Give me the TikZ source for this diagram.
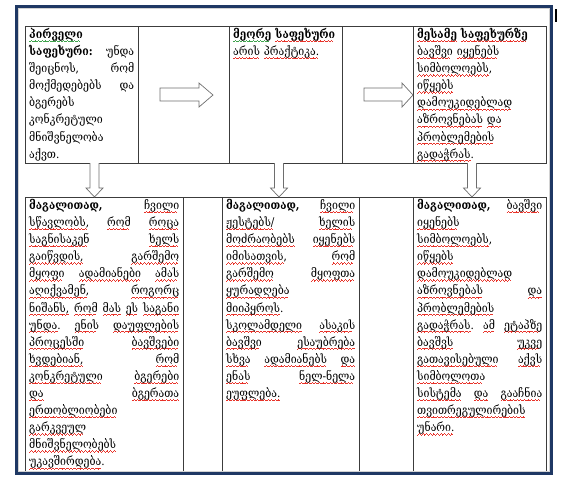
\documentclass[tikz,border=0pt]{standalone}
\usepackage{fontspec}
\setmainfont[WordSpace=0.75, FakeStretch=0.88]{DejaVu Serif}
\usepackage{tikz}
\usetikzlibrary{calc}
\definecolor{cFrame}{HTML}{1F3864}
\definecolor{cGrid}{HTML}{3C3C3C}
\definecolor{cArrow}{HTML}{6E6E6E}
\definecolor{cRed}{HTML}{E8332A}
\definecolor{cGreen}{HTML}{3FA34D}
% sublinhado ondulado (corretor)
\makeatletter
\newcommand{\sqwave}{\rule[-3.4pt]{0.9pt}{0.55pt}\rule[-2.8pt]{0.9pt}{0.55pt}%
  \rule[-2.2pt]{0.9pt}{0.55pt}\rule[-2.8pt]{0.9pt}{0.55pt}}
\newcommand{\sqword}[2]{\leavevmode\setbox0\hbox{#2}%
  \rlap{\color{#1}\hbox to\wd0{\leaders\hbox{\sqwave}\hfil}}\box0}
\def\sq@split#1#2 #3\@nil{\sqword{#1}{#2}\ifx\relax#3\relax\else\ \sq@split{#1}#3\@nil\fi}
\newcommand{\sq}[1]{\sq@split{cRed}#1 \@nil}
\newcommand{\sqg}[1]{\sq@split{cGreen}#1 \@nil}
\makeatother

\begin{document}
\begin{tikzpicture}[x=1pt, y=-1pt,
  stage/.style={anchor=north west, inner xsep=4pt, inner ysep=2pt, align=justify,
    font=\fontsize{12}{17.1}\selectfont},
  stageleft/.style={stage, align=left},
  block/.style={draw=cArrow, fill=white, line width=0.7pt, line join=miter}]
  \useasboundingbox (0,0) rectangle (568,480);
  % moldura
  \draw[cFrame, line width=3pt] (16.5,6) rectangle (551.5,473);
  \draw[gray!35, line width=0.6pt] (18.6,8.1) rectangle (549.4,470.9);
  \draw[black, line width=1.3pt] (556,9) -- (556,22);
  % grade
  \draw[cGrid, line width=0.8pt] (25,26) rectangle (546,163);
  \foreach \x in {138,229,342,413}
    \draw[cGrid, line width=0.8pt] (\x,26) -- (\x,163);
  \draw[cGrid, line width=0.8pt] (25,471) -- (25,197) -- (546,197) -- (546,471);
  \foreach \x in {183,222,359,413}
    \draw[cGrid, line width=0.8pt] (\x,197) -- (\x,471);
  % setas
  \def\rblock#1#2#3{% inicio, base da ponta, ponta
    \draw[block] (#1,88) -- (#2,88) -- (#2,83) -- (#3,95) -- (#2,107) -- (#2,101) -- (#1,101) -- cycle;}
  \def\dblock#1{%
    \draw[block] (#1-4.5,163) -- (#1-4.5,188) -- (#1-8.5,188) -- (#1,197) -- (#1+8.5,188) -- (#1+4.5,188) -- (#1+4.5,163);}
  \rblock{160}{199}{213}
  \rblock{364}{402}{413}
  \dblock{94.5}
  \dblock{279}
  \dblock{472}
  % textos
  \node[stage, text width=105pt] (s1) at (25,26) {%
    \sqg{\textbf{პირველი}}\newline
    \textbf{საფეხური:} უნდა\linebreak
    შეიცნოს, რომ\linebreak
    მოქმედებებს და\linebreak
    ბგერებს\newline
    კონკრეტული\newline
    მნიშვნელობა\newline
    აქვთ.};
  \node[stageleft, text width=109pt] (s2) at (229,26) {%
    \sqg{\textbf{მეორე}}\ \sq{\textbf{საფეხური}}\newline
    \sq{არის პრაქტიკა.}};
  \node[stageleft, text width=125pt] (s3) at (413,26) {%
    \sq{\textbf{მესამე} \textbf{საფეხურზე}}\newline
    \sq{ბავშვი იყენებს}\newline
    \sq{სიმბოლოებს,}\newline
    \sq{იწყებს}\newline
    \sq{დამოუკიდებლად}\newline
    \sq{აზროვნებას და}\newline
    \sq{პრობლემების}\newline
    \sq{გადაჭრას.}};
  \node[stage, text width=150pt] (e1) at (25,197) {%
    \textbf{მაგალითად,} \sq{ჩვილი}\linebreak
    \sq{სწავლობს, რომ როცა}\linebreak
    \sq{საგნისაკენ ხელს}\linebreak
    \sq{გაიწვდის, გარშემო}\linebreak
    \sq{მყოფი ადამიანები ამას}\linebreak
    \sq{აღიქვამენ, როგორც}\linebreak
    \sq{ნიშანს, რომ მას ეს საგანი}\linebreak
    \sq{უნდა. ენის დაუფლების}\linebreak
    \sq{პროცესში ბავშვები}\linebreak
    \sq{ხვდებიან, რომ}\linebreak
    \sq{კონკრეტული ბგერები}\linebreak
    \sq{და ბგერათა}\linebreak
    \sq{ერთობლიობები}\newline
    \sq{გარკვეულ}\newline
    \sq{მნიშვნელობებს}\newline
    \sq{უკავშირდება.}};
  \node[stage, text width=129pt] (e2) at (222,197) {%
    \textbf{მაგალითად,} \sq{ჩვილი}\linebreak
    \sq{ჟესტებს/ ხელის}\linebreak
    \sq{მოძრაობებს იყენებს}\linebreak
    \sq{იმისათვის, რომ}\linebreak
    \sq{გარშემო მყოფთა}\linebreak
    \sq{ყურადღება}\newline
    \sq{მიიპყროს.}\newline
    \sq{სკოლამდელი ასაკის}\linebreak
    \sq{ბავშვი ესაუბრება}\linebreak
    \sq{სხვა ადამიანებს და}\linebreak
    \sq{ენას ნელ-ნელა}\linebreak
    \sq{ეუფლება.}};
  \node[stage, text width=125pt] (e3) at (413,197) {%
    \textbf{მაგალითად,} \sq{ბავშვი}\linebreak
    \sq{იყენებს}\newline
    \sq{სიმბოლოებს,}\newline
    \sq{იწყებს}\newline
    \sq{დამოუკიდებლად}\newline
    \sq{აზროვნებას და}\linebreak
    \sq{პრობლემების}\newline
    \sq{გადაჭრას. ამ ეტაპზე}\linebreak
    \sq{ბავშვს უკვე}\linebreak
    \sq{გათავისებული აქვს}\linebreak
    \sq{სიმბოლოთა}\newline
    \sq{სისტემა და გააჩნია}\linebreak
    \sq{თვითრეგულირების}\newline
    \sq{უნარი.}};
\end{tikzpicture}
\end{document}
